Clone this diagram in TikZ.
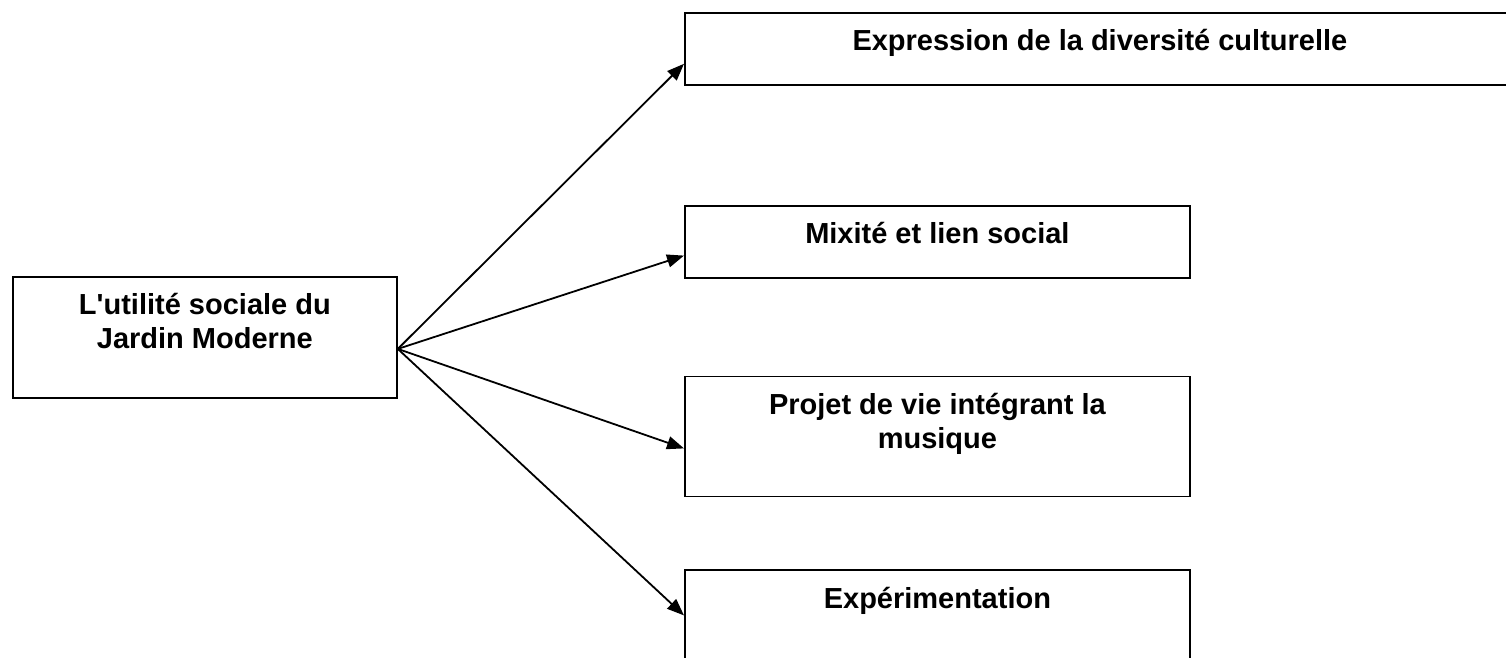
\documentclass[tikz,border=0pt]{standalone}
\usepackage{fontspec}
\setmainfont{Liberation Sans}
\usetikzlibrary{arrows.meta,positioning}
\newcommand{\boxtext}[3]{\parbox[c][#2][t]{#1}{\centering\rule{0pt}{38pt}#3}}
\begin{document}
\begin{tikzpicture}[x=1pt, y=1pt, ->, >={Stealth[length=17pt,width=13pt,inset=0pt]}, line width=1.8pt,
    box/.style={draw, rectangle, inner sep=0pt, anchor=north west, font=\fontsize{29}{34}\selectfont\bfseries}]
                \useasboundingbox (0,0) rectangle (1506,-657);
                \node[box]         (0) at (12,-276)                         {\boxtext{384pt}{121pt}{L\textquotesingle utilit\'e sociale du\\Jardin Moderne}};
                \node[box]         (1) at (684,-12)                         {\boxtext{830pt}{72pt}{Expression de la diversit\'e culturelle}};
                \node[box]         (2) [below=119pt of 1.south west, anchor=north west] {\boxtext{505pt}{72pt}{Mixit\'e et lien social}};
                \node[box]         (3) [below=97pt of 2.south west, anchor=north west]  {\boxtext{505pt}{120pt}{Projet de vie int\'egrant la\\musique}};
                \node[box]         (4) [below=72pt of 3.south west, anchor=north west]  {\boxtext{505pt}{110pt}{Exp\'erimentation}};

                \path
                ([yshift=-11.5pt]0.east) edge ([yshift=22pt]1.south west)
                edge ([yshift=23pt]2.south west)
                edge ([yshift=49pt]3.south west)
                edge ([yshift=-46pt]4.north west);
            \end{tikzpicture}
\end{document}
